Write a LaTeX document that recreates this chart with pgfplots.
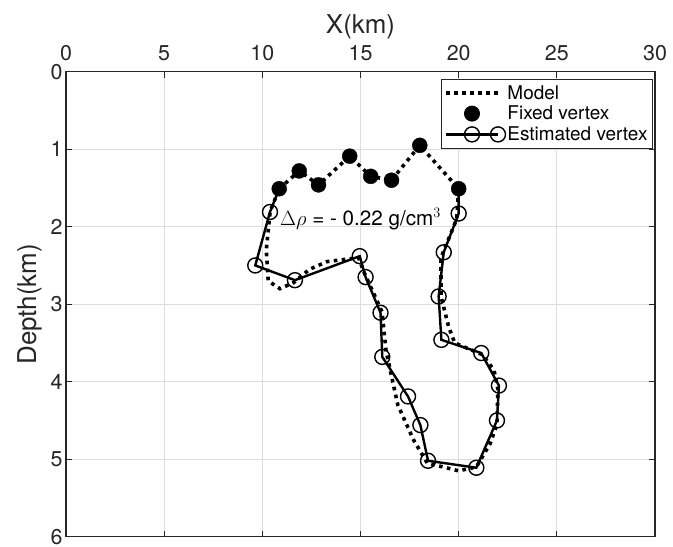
\documentclass[border=0pt]{standalone}
\usepackage{pgfplots}
\pgfplotsset{compat=1.18}
\usepackage{fontspec}
\setmainfont{TeX Gyre Heros}
\definecolor{axisgray}{HTML}{262626}
\definecolor{gridgray}{HTML}{DCDCDC}

\begin{document}
\begin{tikzpicture}
\begin{axis}[
  scale only axis,
  width=589bp, height=465bp,
  xmin=0, xmax=30, ymin=0, ymax=6,
  y dir=reverse,
  xtick={0,5,...,30}, ytick={0,1,...,6},
  xticklabel pos=top,
  xlabel={X(km)}, ylabel={Depth(km)},
  xlabel style={font=\fontsize{26}{28}\selectfont, text=axisgray},
  ylabel style={font=\fontsize{26}{28}\selectfont, text=axisgray, yshift=2bp},
  ticklabel style={font=\fontsize{21.5}{23}\selectfont, text=axisgray},
  xticklabel style={yshift=7bp},
  yticklabel style={inner ysep=0pt},
  /pgf/number format/assume math mode=true,
  tick align=inside,
  major tick length=6bp,
  tick style={axisgray, line width=1bp},
  axis line style={axisgray, line width=1.2bp},
  grid=major,
  major grid style={gridgray, line width=1bp},
  legend style={at={(1,1)}, anchor=north east, yshift=-7bp, xshift=-2bp,
    draw=axisgray, line width=1bp, fill=white,
    font=\fontsize{19}{21}\selectfont, text=black,
    row sep=1.5bp, inner xsep=3bp, inner ysep=4bp},
  legend cell align=left,
  legend image code/.code={%
    \draw[mark repeat=2, mark phase=2, #1]
      plot coordinates {(0bp,0bp) (26bp,0bp) (52bp,0bp)};},
]
% true body outline
\addplot[black, line width=3.6bp, dash pattern=on 3.6bp off 4.4bp] coordinates {
  (10.86,1.51) (11.88,1.28) (12.86,1.46) (14.45,1.09) (15.52,1.35)
  (16.58,1.40) (18.02,0.95) (20.00,1.51) (19.90,1.90) (19.10,2.40)
  (19.10,2.90) (19.50,3.30) (19.80,3.50) (21.20,3.65) (21.80,3.85)
  (22.00,4.10) (21.95,4.55) (21.60,4.80) (20.90,5.10) (20.00,5.15)
  (18.40,5.05) (17.70,4.75) (16.90,4.30) (16.30,3.60) (16.10,3.10)
  (15.20,2.60) (14.90,2.40) (13.30,2.45) (12.40,2.55) (11.60,2.72)
  (10.90,2.80) (10.30,2.70) (10.20,2.30) (10.40,1.80) (10.86,1.51)
};
\addlegendentry{Model}
% vertices held fixed during inversion
\addplot[only marks, mark=*, mark size=7.5bp, black] coordinates {
  (10.86,1.51) (11.88,1.28) (12.86,1.46) (14.45,1.09)
  (15.52,1.35) (16.58,1.40) (18.02,0.95) (20.00,1.51)
};
\addlegendentry{Fixed vertex}
% inverted vertices
\addplot[black, line width=2.4bp, mark=o, mark size=7.5bp,
  mark options={line width=1.4bp, fill=none},
  mark indices={2,3,4,5,6,7,8,9,10,11,12,13,14,15,16,17,18,19}] coordinates {
  (20.00,1.51) (20.00,1.83) (19.24,2.33) (18.98,2.90) (19.12,3.46)
  (21.15,3.63) (22.05,4.05) (21.95,4.50) (20.90,5.11) (18.44,5.02)
  (18.05,4.56) (17.42,4.19) (16.11,3.68) (16.02,3.11) (15.26,2.65)
  (14.96,2.38) (11.66,2.69) (9.64,2.50) (10.39,1.81) (10.86,1.51)
};
\addlegendentry{Estimated vertex}
\node[anchor=base west, font=\fontsize{20.7}{22}\selectfont, inner sep=0pt]
  at (axis cs:10.9,1.98) {$\Delta\rho$ = - 0.22 g/cm$^3$};
\end{axis}
\pgfresetboundingbox
\path (-66bp,-10.3bp) rectangle (607bp,536.7bp);
\end{tikzpicture}
\end{document}
